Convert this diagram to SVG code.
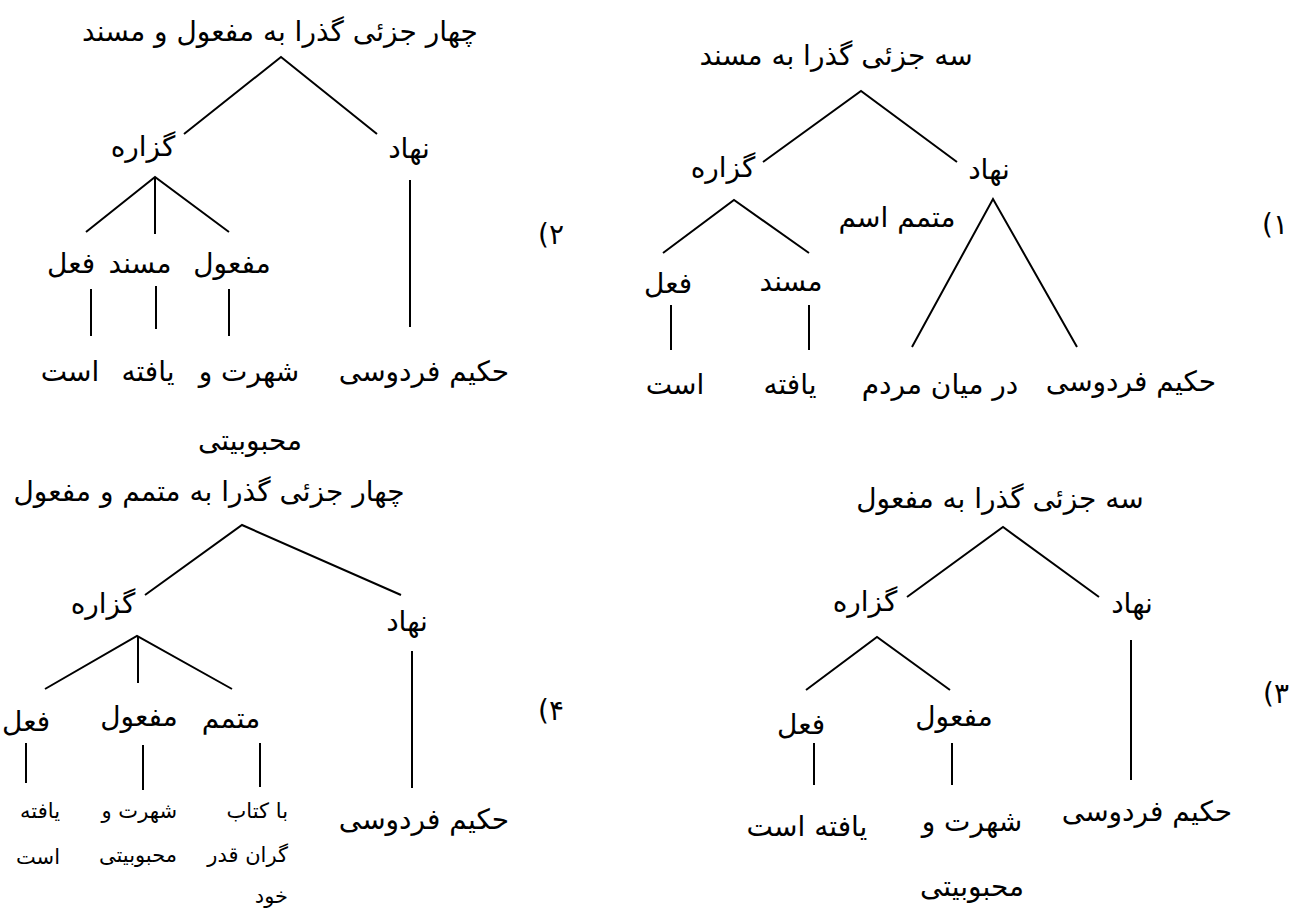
<svg xmlns="http://www.w3.org/2000/svg" width="1304" height="910" viewBox="0 0 1304 910">
<style>
text{font-family:"DejaVu Sans","Liberation Serif",sans-serif;fill:#000;direction:rtl}
.t{font-size:28px;text-anchor:middle}
.s{font-size:21px}
.r{text-anchor:start}
.num{font-size:28px;text-anchor:middle;direction:ltr;unicode-bidi:bidi-override}
.ln{stroke:#000;stroke-width:2;fill:none;stroke-linejoin:miter}
</style>
<rect width="1304" height="910" fill="#fff"/>
<g id="connectors">
<path class="ln" d="M763,162 L861,91 L957,162"/>
<path class="ln" d="M663,253 L734,200 L809,253"/>
<path class="ln" d="M671,305 L671,350 M809,305 L809,350"/>
<path class="ln" d="M912,347 L993,199 L1077,347"/>
<path class="ln" d="M184,134 L281,57 L377,134"/>
<path class="ln" d="M86,232 L155,177 L229,232 M155,177 L155,234"/>
<path class="ln" d="M91,289 L91,336 M156,286 L156,329 M229,289 L229,336"/>
<path class="ln" d="M410,180 L410,327"/>
<path class="ln" d="M907,597 L1003,527 L1099,597"/>
<path class="ln" d="M806,690 L877,637 L950,690"/>
<path class="ln" d="M814,743 L814,785 M952,743 L952,785"/>
<path class="ln" d="M1131,640 L1131,780"/>
<path class="ln" d="M145,595 L242,525 L401,595"/>
<path class="ln" d="M45,689 L137,636 L232,689 M138,636 L138,683"/>
<path class="ln" d="M26,743 L26,783 M143,745 L143,790 M260,743 L260,787"/>
<path class="ln" d="M412,651 L412,788"/>
</g>
<g id="panel1">
<text class="num" x="1275" y="234">(۱</text>
<g id="p1-root"><text class="t" x="836" y="65">سه جزئی گذرا به مسند</text></g>
<g id="p1-gozare"><text class="t" x="723" y="177">گزاره</text></g>
<g id="p1-nahad"><text class="t" x="989" y="179">نهاد</text></g>
<g id="p1-motammam"><text class="t" x="897" y="227">متمم اسم</text></g>
<g id="p1-feel"><text class="t" x="668" y="293">فعل</text></g>
<g id="p1-mosnad"><text class="t" x="791" y="291">مسند</text></g>
<g id="p1-ast"><text class="t" x="675" y="394">است</text></g>
<g id="p1-yafte"><text class="t" x="790" y="394">یافته</text></g>
<g id="p1-miyan"><text class="t" x="940" y="394">در میان مردم</text></g>
<g id="p1-hakim"><text class="t" x="1131" y="391">حکیم فردوسی</text></g>
</g>
<g id="panel2">
<text class="num" x="551" y="244">(۲</text>
<g id="p2-root"><text class="t" x="280" y="41">چهار جزئی گذرا به مفعول و مسند</text></g>
<g id="p2-gozare"><text class="t" x="143" y="156">گزاره</text></g>
<g id="p2-nahad"><text class="t" x="409" y="158">نهاد</text></g>
<g id="p2-feel"><text class="t" x="71" y="273">فعل</text></g>
<g id="p2-mosnad"><text class="t" x="140" y="273">مسند</text></g>
<g id="p2-mafool"><text class="t" x="232" y="273">مفعول</text></g>
<g id="p2-ast"><text class="t" x="70" y="381">است</text></g>
<g id="p2-yafte"><text class="t" x="148" y="381">یافته</text></g>
<g id="p2-shohrat"><text class="t" x="249" y="381">شهرت و</text><text class="t" x="250" y="450">محبوبیتی</text></g>
<g id="p2-hakim"><text class="t" x="424" y="381">حکیم فردوسی</text></g>
</g>
<g id="panel3">
<text class="num" x="1276" y="703">(۳</text>
<g id="p3-root"><text class="t" x="1000" y="508">سه جزئی گذرا به مفعول</text></g>
<g id="p3-gozare"><text class="t" x="865" y="611">گزاره</text></g>
<g id="p3-nahad"><text class="t" x="1132" y="613">نهاد</text></g>
<g id="p3-feel"><text class="t" x="801" y="734">فعل</text></g>
<g id="p3-mafool"><text class="t" x="954" y="726">مفعول</text></g>
<g id="p3-yafte"><text class="t" x="807" y="836">یافته است</text></g>
<g id="p3-shohrat"><text class="t" x="972" y="831">شهرت و</text><text class="t" x="972" y="896">محبوبیتی</text></g>
<g id="p3-hakim"><text class="t" x="1147" y="821">حکیم فردوسی</text></g>
</g>
<g id="panel4">
<text class="num" x="551" y="720">(۴</text>
<g id="p4-root"><text class="t" x="209" y="501">چهار جزئی گذرا به متمم و مفعول</text></g>
<g id="p4-gozare"><text class="t" x="103" y="613">گزاره</text></g>
<g id="p4-nahad"><text class="t" x="407" y="631">نهاد</text></g>
<g id="p4-feel"><text class="t" x="26" y="731">فعل</text></g>
<g id="p4-mafool"><text class="t" x="139" y="726">مفعول</text></g>
<g id="p4-motammam"><text class="t" x="231" y="728">متمم</text></g>
<g id="p4-yafte"><text class="s r" x="60" y="818">یافته</text><text class="s r" x="60" y="864">است</text></g>
<g id="p4-shohrat"><text class="s r" x="177" y="818">شهرت و</text><text class="s r" x="177" y="862">محبوبیتی</text></g>
<g id="p4-ketab"><text class="s r" x="288" y="818">با کتاب</text><text class="s r" x="288" y="862">گران قدر</text><text class="s r" x="288" y="903">خود</text></g>
<g id="p4-hakim"><text class="t" x="424" y="829">حکیم فردوسی</text></g>
</g>
</svg>
